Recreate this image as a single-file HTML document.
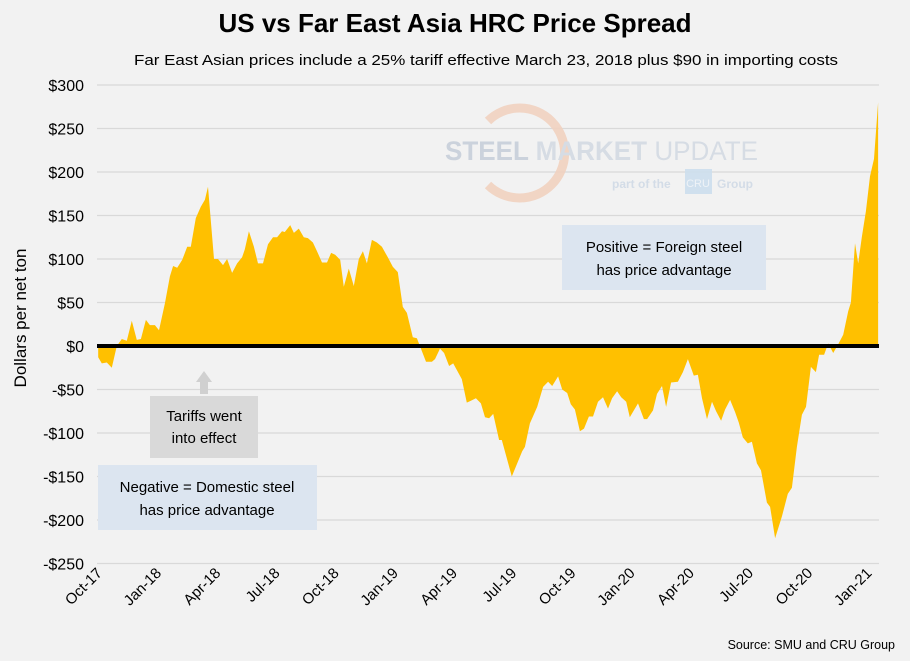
<!DOCTYPE html>
<html><head><meta charset="utf-8"><style>
body{margin:0;background:#f2f2f2;}
svg{display:block;font-family:"Liberation Sans",sans-serif;}
</style></head><body>
<svg id="chart" width="910" height="661" viewBox="0 0 910 661" xmlns="http://www.w3.org/2000/svg">
<rect width="910" height="661" fill="#f2f2f2"/>
<text x="455" y="32" text-anchor="middle" font-size="26" font-weight="bold" fill="#000">US vs Far East Asia HRC Price Spread</text>
<text x="486" y="65" text-anchor="middle" font-size="15" fill="#000" textLength="704" lengthAdjust="spacingAndGlyphs">Far East Asian prices include a 25% tariff effective March 23, 2018 plus $90 in importing costs</text>
<g id="grid"></g>
<g id="watermark" opacity="0.9">
<path d="M 488 121 A 45 45 0 1 1 488 185" fill="none" stroke="#f1d2c0" stroke-width="9"/>
<text x="445" y="160" font-size="27" font-weight="bold" fill="#c7cfda" textLength="313" lengthAdjust="spacingAndGlyphs">STEEL <tspan fill="#d3dae3">MARKET</tspan> <tspan fill="#d3dae3" font-weight="normal">UPDATE</tspan></text>
<text x="612" y="188" font-size="12" font-weight="bold" fill="#d0dae6">part of the</text>
<rect x="685" y="169" width="27" height="25" fill="#cddfee"/>
<text x="698" y="187" text-anchor="middle" font-size="11" fill="#eef3f8">CRU</text>
<text x="717" y="188" font-size="12" font-weight="bold" fill="#d0dae6">Group</text>
</g>
<path id="area" fill="#ffc000"/>
<line x1="97" y1="346" x2="879" y2="346" stroke="#000" stroke-width="4"/>
<g id="ylabels"></g>
<g id="xlabels"></g>
<text transform="translate(26,318) rotate(-90)" text-anchor="middle" font-size="17" fill="#000">Dollars per net ton</text>
<rect x="562" y="225" width="204" height="65" fill="#dce5f0"/>
<text x="664" y="252" text-anchor="middle" font-size="15">Positive = Foreign steel</text>
<text x="664" y="275" text-anchor="middle" font-size="15">has price advantage</text>
<path d="M200 394 L200 382 L196 382 L204 371 L212 382 L208 382 L208 394 Z" fill="#d0d0d0"/>
<rect x="150" y="396" width="108" height="62" fill="#d9d9d9"/>
<text x="204" y="421" text-anchor="middle" font-size="15">Tariffs went</text>
<text x="204" y="443" text-anchor="middle" font-size="15">into effect</text>
<rect x="98" y="465" width="219" height="65" fill="#dce5f0"/>
<text x="207" y="492" text-anchor="middle" font-size="15">Negative = Domestic steel</text>
<text x="207" y="515" text-anchor="middle" font-size="15">has price advantage</text>
<text x="895" y="649" text-anchor="end" font-size="12.5">Source: SMU and CRU Group</text>
</svg>
<script>
const yTicks=[300,250,200,150,100,50,0,-50,-100,-150,-200,-250];
const xTickLabels=["Oct-17","Jan-18","Apr-18","Jul-18","Oct-18","Jan-19","Apr-19","Jul-19","Oct-19","Jan-20","Apr-20","Jul-20","Oct-20","Jan-21"];
const weeks=[-0.4,0.4,1.5,2.6,3.7,4.8,5.9,7.0,8.1,9.0,10.1,11.0,12.1,13.0,14.3,15.4,16.1,17.0,18.1,19.2,20.0,21.1,22.2,23.1,23.8,25.1,26.0,27.1,28.0,29.1,30.2,31.3,31.9,32.8,33.9,34.8,35.9,37.0,38.1,39.0,40.1,40.7,41.9,42.7,43.8,44.9,45.8,46.9,47.8,48.9,50.0,50.9,51.8,52.9,53.7,54.8,55.9,57.0,57.9,58.8,59.9,61.0,62.1,63.4,64.5,65.6,66.7,67.6,68.9,69.8,71.8,73.1,73.8,74.9,75.8,76.9,77.8,79.7,80.8,81.7,82.8,83.9,84.8,85.7,86.6,87.9,88.5,90.7,93.0,93.6,94.7,96.3,97.6,98.7,99.6,100.9,101.8,102.9,103.7,104.6,105.7,106.6,107.7,108.6,109.7,110.8,111.9,112.8,113.9,114.8,115.9,116.7,118.5,119.8,120.5,121.8,122.7,123.8,124.7,125.8,127.3,128.4,129.5,130.8,131.7,132.6,133.7,134.8,135.7,136.8,137.7,138.8,139.9,140.7,141.6,142.7,143.6,144.7,145.6,146.9,147.6,148.7,150.2,151.5,152.4,153.5,154.6,155.5,156.6,157.7,158.4,159.5,160.4,161.5,162.6,163.7,164.8,165.4,166.3,167.0,167.8,168.7,169.6,170.5,171.4];
const spread=[-13,-20,-19,-25,0,8,6,29,7,8,30,24,24,18,49,80,92,90,99,114,114,147,160,168,183,100,100,93,100,84,95,102,111,132,114,95,95,117,125,125,132,131,139,130,135,125,124,119,109,96,96,107,105,99,68,89,69,100,109,95,122,119,114,102,91,85,45,38,10,9,-18,-18,-15,-3,-8,-23,-20,-38,-65,-63,-60,-66,-82,-83,-78,-108,-108,-150,-121,-116,-89,-70,-47,-41,-46,-35,-50,-54,-67,-73,-98,-95,-81,-81,-64,-59,-72,-60,-52,-59,-64,-82,-66,-84,-84,-74,-55,-46,-70,-42,-41,-30,-15,-34,-33,-60,-84,-64,-75,-86,-73,-62,-76,-88,-105,-112,-110,-135,-143,-180,-185,-221,-196,-170,-163,-116,-79,-70,-24,-30,-10,-10,3,-8,2,13,40,50,118,95,125,155,195,215,280];
const NS='http://www.w3.org/2000/svg';
function y(v){return 346-v*(261/300);}
function x(w){return 100+w*(59.2/13.04);}
const grid=document.getElementById('grid'),yl=document.getElementById('ylabels'),xl=document.getElementById('xlabels');
yTicks.forEach(t=>{
  if(t!==0){const l=document.createElementNS(NS,'line');
  l.setAttribute('x1',97);l.setAttribute('x2',879);l.setAttribute('y1',y(t));l.setAttribute('y2',y(t));
  l.setAttribute('stroke','#d9d9d9');l.setAttribute('stroke-width','1.3');
  
  
  grid.appendChild(l);}
  const tx=document.createElementNS(NS,'text');
  tx.setAttribute('x',84);tx.setAttribute('y',y(t)+6);tx.setAttribute('text-anchor','end');tx.setAttribute('font-size','16');
  tx.textContent=(t<0?'-$':'$')+Math.abs(t);
  
  
  yl.appendChild(tx);
});
xTickLabels.forEach((s,i)=>{
  const tx=document.createElementNS(NS,'text');
  const px=x(i*13.04)+3, py=574;
  tx.setAttribute('transform','translate('+px+','+py+') rotate(-45)');
  tx.setAttribute('text-anchor','end');tx.setAttribute('font-size','15');
  tx.textContent=s;
  
  
  xl.appendChild(tx);
});
let d='M'+x(weeks[0])+','+y(0);
weeks.forEach((w,i)=>{d+=' L'+x(w).toFixed(1)+','+y(spread[i]).toFixed(1);});
d+=' L'+x(weeks[weeks.length-1])+','+y(0)+' Z';
document.getElementById('area').setAttribute('d',d);
</script>
</body></html>
